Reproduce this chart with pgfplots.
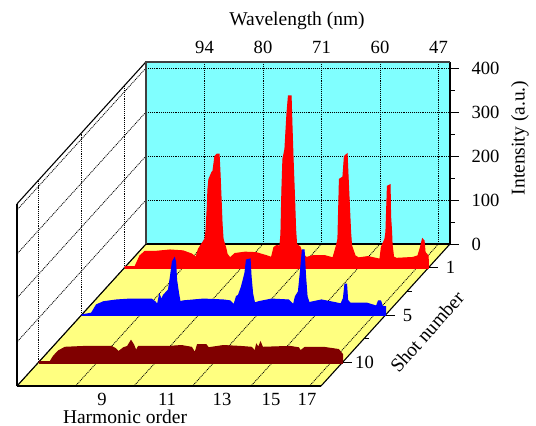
\documentclass[border=0pt]{standalone}
\usepackage{fontspec}
\setmainfont{Liberation Serif}
\usepackage{pgfplots}
\pgfplotsset{compat=1.18}
\definecolor{wallc}{HTML}{80FFFF}
\definecolor{floorc}{HTML}{FFFF80}
\definecolor{maroonc}{HTML}{800000}
\newcommand{\tickfont}{\fontsize{18.6}{20}\selectfont}
\newcommand{\labfont}{\fontsize{19.5}{21}\selectfont}
\begin{document}
\begin{tikzpicture}
\begin{axis}[
  at={(146pt,182pt)}, anchor=origin,
  x={(1pt,0pt)}, y={(-21.5pt,-23.67pt)}, z={(0pt,0.44pt)},
  xmin=0, xmax=304, ymin=0, ymax=6, zmin=0, zmax=414,
  set layers, clip=false,
  /pgf/number format/assume math mode=true,
  xtick={58.5,117,175.5,234,292.5}, xticklabels={},
  ytick={1,3,5}, yticklabels={1,5,10},
  ztick={0,100,200,300,400},
  zticklabel pos=right,
  tick style={draw=none},
  ticklabel style={font=\tickfont},
  yticklabel style={anchor=center, xshift=22pt, yshift=0pt},
  zticklabel style={anchor=west, xshift=18pt, yshift=0pt},
  grid=major,
  grid style={black, line width=0.8pt, dash pattern=on 1pt off 0.9pt},
  axis line style={black, line width=1.1pt},
]
\addplot3[on layer=axis background, fill=wallc, draw=none] coordinates {(0,0,0) (304,0,0) (304,0,414) (0,0,414)};
\addplot3[on layer=axis background, fill=floorc, draw=none] coordinates {(0,0,0) (304,0,0) (304,6,0) (0,6,0)};

% shot 1
\addplot3[fill=red, draw=red, line width=1.2pt] coordinates {
(0,1,0) (0.5,1,1) (10.5,1,2) (15.5,1,27) (20.5,1,37) (32,1,37) (45.5,1,40) (58.5,1,38) (67,1,31) (71.5,1,23)
(74,1,42) (77,1,53) (80.5,1,65) (81.5,1,81) (83,1,144) (83.5,1,178) (84.5,1,201) (87.5,1,217) (88.5,1,219) (90.5,1,253)
(92.5,1,258) (94.5,1,258) (95.5,1,212) (96.5,1,156) (97.5,1,99) (98.5,1,65) (101.5,1,42) (102.5,1,31) (105.5,1,22)
(110.5,1,32) (120.5,1,35) (131.5,1,34) (142,1,27) (147,1,23) (149.5,1,46) (152,1,50) (155.5,1,49) (156.5,1,76)
(157.5,1,178) (158.5,1,247) (160.5,1,269) (162.5,1,349) (164,1,390) (166.5,1,390) (167.5,1,315) (168.5,1,247)
(170,1,156) (171,1,88) (172,1,53) (175.5,1,47) (178,1,31) (182,1,23) (188.5,1,27) (200.5,1,27) (208.5,1,22)
(212,1,50) (213.5,1,65) (215,1,201) (218.5,1,206) (220,1,253) (222.5,1,258) (224.5,1,156) (226,1,81) (227,1,50)
(230.5,1,27) (234,1,22) (243.5,1,25) (255.5,1,19) (257,1,47) (260.5,1,65) (261.5,1,81) (263,1,185) (265.5,1,188)
(266,1,117) (267,1,81) (267.5,1,53) (269,1,24) (272,1,21) (288.5,1,23) (293.5,1,27) (296,1,46) (298,1,65)
(299.5,1,61) (300.5,1,35) (303.5,1,27) (304,1,0)};
\addplot3[draw=red, line width=2.6pt] coordinates {(0,1,0) (304,1,0)};

% shot 5
\addplot3[fill=blue, draw=blue, line width=1.2pt] coordinates {
(0,3,0) (10,3,4) (15,3,23) (22,3,30) (35,3,34) (48.5,3,36) (70,3,36) (73.5,3,30) (76,3,23) (78,3,45) (80,3,34) (82,3,45)
(87,3,57) (89,3,87) (91,3,121) (93,3,129) (94,3,121) (95,3,80) (97,3,49) (98.5,3,30) (102,3,32) (122,3,36) (142,3,34)
(148.5,3,32) (152.5,3,23) (155,3,42) (157,3,45) (160,3,64) (163.5,3,95) (165,3,125) (168.5,3,127) (169.5,3,87) (171,3,49)
(173,3,27) (177,3,30) (190,3,36) (207,3,34) (212,3,23) (214,3,42) (217,3,53) (218.5,3,87) (221,3,148) (222.5,3,148)
(224,3,87) (225.5,3,42) (227.5,3,28) (240,3,34) (253.5,3,28) (259.5,3,25) (262,3,38) (263.5,3,70) (265,3,70) (266,3,34)
(268.5,3,27) (285,3,27) (295,3,20) (297,3,32) (299,3,32) (301,3,19) (304,3,19) (304,3,0)};
\addplot3[draw=blue, line width=2.6pt] coordinates {(0,3,0) (304,3,0)};

% shot 10
\addplot3[fill=maroonc, draw=maroonc, line width=1.2pt] coordinates {
(0,5,0) (11.5,5,1) (15,5,14) (20,5,26) (26.5,5,34) (46.5,5,36) (73,5,36) (77,5,31) (80,5,24) (85,5,33) (89,5,36)
(92.5,5,49) (95,5,40) (97.5,5,26) (100,5,36) (130,5,36) (143,5,38) (153,5,34) (156.5,5,21) (159,5,40) (167.5,5,40)
(170,5,33) (185,5,38) (201.5,5,36) (213,5,34) (216.5,5,25) (218,5,40) (220,5,33) (222,5,45) (224,5,34) (251.5,5,36)
(260,5,33) (262,5,26) (266.5,5,34) (285,5,34) (300,5,29) (304,5,18) (304,5,0)};
\addplot3[draw=maroonc, line width=2.6pt] coordinates {(0,5,0) (304,5,0)};

% darker frame of the back wall
\draw[black!75, line width=1.7pt] (axis cs:0,0,0) -- (axis cs:0,0,414) -- (axis cs:304,0,414);

% tick marks on the intensity and shot axes
\foreach \z in {0,100,200,300,400} {
  \edef\temp{\noexpand\draw[black, line width=0.8pt] (axis cs:304,0,\z) -- ++(9pt,0pt);}\temp
}
\foreach \z in {50,150,250,350} {
  \edef\temp{\noexpand\draw[black, line width=0.8pt] (axis cs:304,0,\z) -- ++(5pt,0pt);}\temp
}
\foreach \s in {1,3,5} {
  \edef\temp{\noexpand\draw[black, line width=0.8pt] (axis cs:304,\s,0) -- ++(9pt,0pt);}\temp
}
\foreach \s in {2,4} {
  \edef\temp{\noexpand\draw[black, line width=0.8pt] (axis cs:304,\s,0) -- ++(5pt,0pt);}\temp
}

% wavelength scale along the top
\node[font=\tickfont, anchor=base] at (axis cs:58.5,0,414) [yshift=8pt] {94};
\node[font=\tickfont, anchor=base] at (axis cs:117,0,414) [yshift=8pt] {80};
\node[font=\tickfont, anchor=base] at (axis cs:175.5,0,414) [yshift=8pt] {71};
\node[font=\tickfont, anchor=base] at (axis cs:234,0,414) [yshift=8pt] {60};
\node[font=\tickfont, anchor=base] at (axis cs:292.5,0,414) [yshift=8pt] {47};
\node[font=\labfont, anchor=base] at (axis cs:151,0,414) [yshift=36pt] {Wavelength (nm)};

% harmonic order along the front
\node[font=\tickfont, anchor=base] at (axis cs:85,6,0) [yshift=-19pt] {9};
\node[font=\tickfont, anchor=base] at (axis cs:150,6,0) [yshift=-19pt] {11};
\node[font=\tickfont, anchor=base] at (axis cs:205,6,0) [yshift=-19pt] {13};
\node[font=\tickfont, anchor=base] at (axis cs:254,6,0) [yshift=-19pt] {15};
\node[font=\tickfont, anchor=base] at (axis cs:290,6,0) [yshift=-19pt] {17};
\node[font=\labfont, anchor=base] at (axis cs:108,6,0) [yshift=-37pt] {Harmonic order};

\node[font=\labfont, xshift=70pt, rotate=90] at (axis cs:304,0,241) {Intensity (a.u.)};
\node[font=\labfont, xshift=41.5pt, yshift=-17pt, rotate=48.5] at (axis cs:304,3,0) {Shot number};
\end{axis}
\pgfresetboundingbox
\path[use as bounding box] (0pt,0pt) rectangle (536pt,426pt);
\end{tikzpicture}
\end{document}
